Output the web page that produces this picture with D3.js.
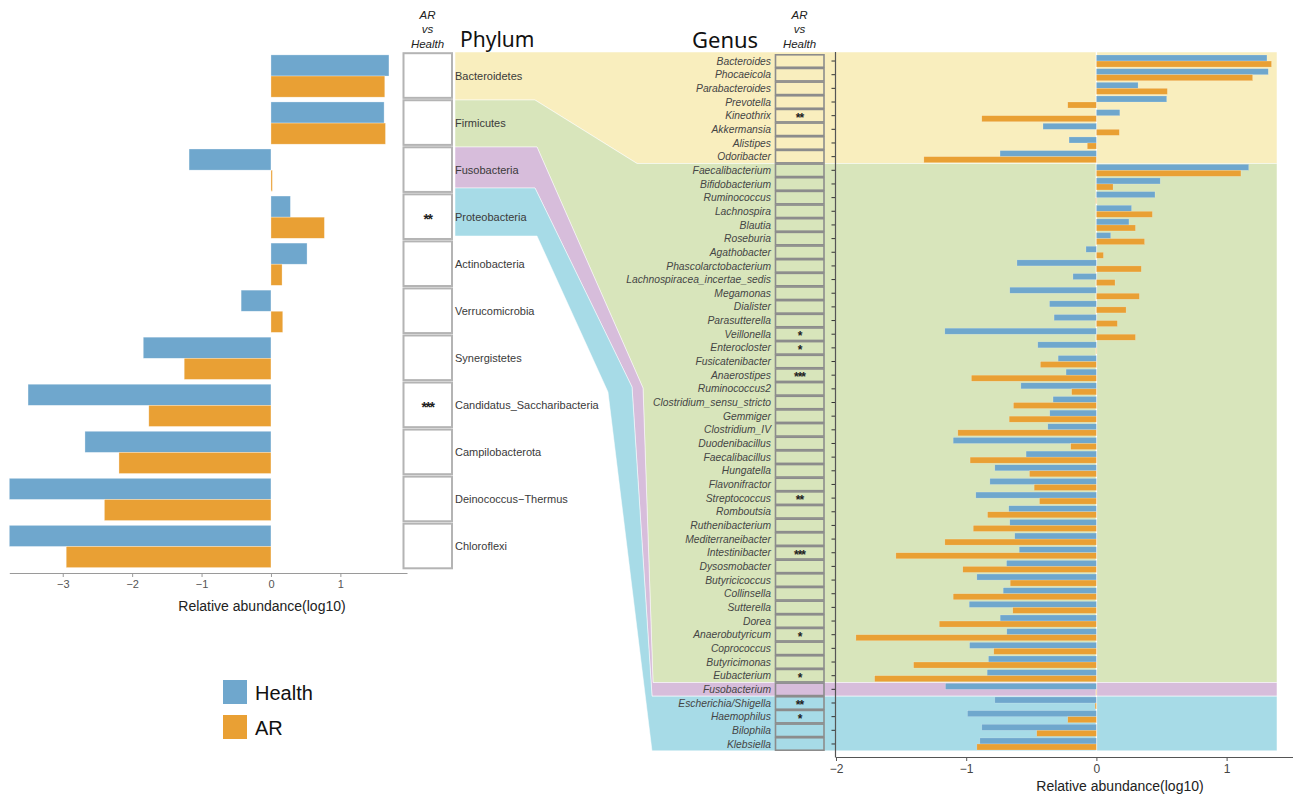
<!DOCTYPE html>
<html>
<head>
<meta charset="utf-8">
<script src="https://cdn.jsdelivr.net/npm/d3@7"></script>
<style>
  body { margin: 0; background: #fff; }
  text { font-family: Arial, "Liberation Sans", Helvetica, sans-serif; }
</style>
</head>
<body>
<svg id="chart" width="1293" height="796"></svg>
<script>
// ---------- Phylum level (log10 relative abundance) ----------
const phyla = ["Bacteroidetes", "Firmicutes", "Fusobacteria", "Proteobacteria", "Actinobacteria",
  "Verrucomicrobia", "Synergistetes", "Candidatus_Saccharibacteria", "Campilobacterota",
  "Deinococcus\u2212Thermus", "Chloroflexi"];
const phylumHealth = [1.70, 1.63, -1.18, 0.28, 0.52, -0.43, -1.84, -3.50, -2.68, -3.77, -3.77];
const phylumAR     = [1.64, 1.65, 0.02, 0.77, 0.16, 0.17, -1.25, -1.76, -2.19, -2.40, -2.95];
const phylumSig    = ["", "", "", "**", "", "", "", "***", "", "", ""];

// ---------- Genus level (log10 relative abundance) ----------
const genera = ["Bacteroides", "Phocaeicola", "Parabacteroides", "Prevotella", "Kineothrix", "Akkermansia",
  "Alistipes", "Odoribacter", "Faecalibacterium", "Bifidobacterium", "Ruminococcus", "Lachnospira",
  "Blautia", "Roseburia", "Agathobacter", "Phascolarctobacterium", "Lachnospiracea_incertae_sedis",
  "Megamonas", "Dialister", "Parasutterella", "Veillonella", "Enterocloster", "Fusicatenibacter",
  "Anaerostipes", "Ruminococcus2", "Clostridium_sensu_stricto", "Gemmiger", "Clostridium_IV",
  "Duodenibacillus", "Faecalibacillus", "Hungatella", "Flavonifractor", "Streptococcus", "Romboutsia",
  "Ruthenibacterium", "Mediterraneibacter", "Intestinibacter", "Dysosmobacter", "Butyricicoccus",
  "Collinsella", "Sutterella", "Dorea", "Anaerobutyricum", "Coprococcus", "Butyricimonas", "Eubacterium",
  "Fusobacterium", "Escherichia/Shigella", "Haemophilus", "Bilophila", "Klebsiella"];
const genusHealth = [1.31, 1.32, 0.32, 0.54, 0.18, -0.41, -0.21, -0.74, 1.17, 0.49, 0.45, 0.27,
  0.25, 0.11, -0.08, -0.61, -0.18, -0.665, -0.36, -0.325, -1.164, -0.45, -0.294, -0.233, -0.58,
  -0.333, -0.358, -0.373, -1.10, -0.54, -0.78, -0.818, -0.926, -0.673, -0.665, -0.627, -0.593,
  -0.69, -0.918, -0.716, -0.977, -0.739, -0.688, -0.974, -0.829, -0.839, -1.159, -0.78, -0.99,
  -0.88, -0.895];
const genusAR = [1.345, 1.20, 0.545, -0.22, -0.88, 0.176, -0.07, -1.325, 1.11, 0.128, -0.005, 0.43,
  0.30, 0.37, 0.054, 0.345, 0.143, 0.33, 0.228, 0.161, 0.30, -0.004, -0.43, -0.96, -0.19, -0.637,
  -0.67, -1.064, -0.197, -0.97, -0.514, -0.478, -0.437, -0.836, -0.946, -1.164, -1.54, -1.026,
  -0.662, -1.10, -0.642, -1.207, -1.847, -0.788, -1.404, -1.703, -0.004, -0.01, -0.22, -0.458, -0.918];
const genusSig = ["", "", "", "", "**", "", "", "", "", "", "", "", "", "", "", "", "", "", "", "",
  "*", "*", "", "***", "", "", "", "", "", "", "", "", "**", "", "", "", "***", "", "", "", "", "",
  "*", "", "", "*", "", "**", "*", "", ""];

// Phylum groups shown as coloured bands behind the genus panel
const groupPhyla  = ["Bacteroidetes", "Firmicutes", "Fusobacteria", "Proteobacteria"];
const groupFirst  = ["Bacteroides", "Faecalibacterium", "Fusobacterium", "Escherichia/Shigella"];
const groupColors = ["#f9eebe", "#d8e5bb", "#d7bddb", "#a7dbe7"];

const groupNames = ["Health", "AR"];
const seriesColors = ["#6fa7cd", "#e9a034"];

const xTicksLeft  = [-3, -2, -1, 0, 1];
const xTicksRight = [-2, -1, 0, 1];

// ---------------------------------------------------------------
const svg = d3.select("#chart");
const intFmt = d3.format("d");

// ===== Left panel: phylum bars =====
const xL = d3.scaleLinear().domain([-3.77, 1.96]).range([9.3, 407]);
const yL = d3.scaleBand().domain(phyla).range([52.5, 570]);
const bwL = yL.bandwidth();
const barInsetL = 2.4;
const halfL = (bwL - 2 * barInsetL) / 2;

const leftBars = svg.append("g");
phyla.forEach((p, i) => {
  [phylumHealth[i], phylumAR[i]].forEach((v, s) => {
    leftBars.append("rect")
      .attr("x", Math.min(xL(0), xL(v)))
      .attr("width", Math.abs(xL(v) - xL(0)))
      .attr("y", yL(p) + barInsetL + s * halfL)
      .attr("height", halfL)
      .attr("fill", seriesColors[s])
      .attr("stroke", "#fff").attr("stroke-opacity", 0.5).attr("stroke-width", 0.6);
  });
});

const axL = svg.append("g").attr("transform", "translate(0,573)")
  .call(d3.axisBottom(xL).tickValues(xTicksLeft).tickFormat(intFmt)
    .tickSize(4).tickSizeOuter(0).tickPadding(3));
axL.select(".domain").attr("stroke", "#9a9a9a").attr("stroke-width", 1.2);
axL.selectAll(".tick line").attr("stroke", "#9a9a9a");
axL.selectAll(".tick text").attr("fill", "#555").style("font-size", "11px");
svg.append("text").attr("x", 262).attr("y", 611).attr("text-anchor", "middle")
  .style("font-size", "14px").attr("fill", "#222").text("Relative abundance(log10)");

// ===== Flow bands linking phyla to genera =====
const bandRight = 1277;
const gTop = 54.2, gBottom = 750.8;
const rowStep = (gBottom - gTop) / genera.length;
const gY = groupFirst.map(g => gTop + genera.indexOf(g) * rowStep);
const flows = [
  [[455, 52], [bandRight, 52], [bandRight, gY[1]], [637, gY[1]], [535, 100], [455, 100]],
  [[455, 100], [535, 100], [637, gY[1]], [bandRight, gY[1]], [bandRight, gY[2]], [653, gY[2]],
   [643, 388], [537, 147], [455, 147]],
  [[455, 147], [537, 147], [643, 388], [653, gY[2]], [bandRight, gY[2]], [bandRight, gY[3]],
   [652, gY[3]], [632, 387], [535, 188], [455, 188]],
  [[455, 188], [535, 188], [632, 387], [652, gY[3]], [bandRight, gY[3]], [bandRight, gBottom],
   [652, gBottom], [608, 392], [537, 236], [455, 236]]
];
svg.append("g").selectAll("path").data(flows).join("path")
  .attr("d", d => "M" + d.map(p => p.join(",")).join("L") + "Z")
  .attr("fill", (d, i) => groupColors[i])
  .attr("stroke", "#fff").attr("stroke-width", 0.5);

// ===== Phylum significance boxes and labels =====
const boxL = svg.append("g");
phyla.forEach((p, i) => {
  boxL.append("rect")
    .attr("x", 403.5).attr("width", 48.5)
    .attr("y", yL(p) + 0.7).attr("height", yL.step() - 2.4)
    .attr("fill", "#fff").attr("stroke", "#b4b4b4").attr("stroke-width", 2);
  if (phylumSig[i]) {
    boxL.append("text").attr("x", 427.5).attr("y", yL(p) + yL.step() / 2 + 6.5)
      .attr("text-anchor", "middle").style("font-size", "14px").style("font-weight", "bold")
      .style("letter-spacing", "-1.5px").attr("fill", "#222").text(phylumSig[i]);
  }
  svg.append("text").attr("x", 455).attr("y", yL(p) + yL.step() / 2 + 4)
    .style("font-size", "11px").attr("fill", "#3a3a3a").text(p);
});

// Column headers
function header(cx) {
  const g = svg.append("g").style("font-style", "italic").style("font-size", "11.5px")
    .attr("fill", "#222").attr("text-anchor", "middle");
  g.append("text").attr("x", cx).attr("y", 19).text("AR");
  g.append("text").attr("x", cx).attr("y", 33.3).text("vs");
  g.append("text").attr("x", cx).attr("y", 47.5).text("Health");
}
header(427.5);
header(799.5);
svg.append("text").attr("x", 460).attr("y", 47).style("font-family", "'Noto Sans', sans-serif")
  .style("font-size", "21px").attr("fill", "#111").text("Phylum");
svg.append("text").attr("x", 692).attr("y", 48).style("font-family", "'Noto Sans', sans-serif")
  .style("font-size", "22px").attr("fill", "#111").text("Genus");

// ===== Right panel: genus bars =====
const xR = d3.scaleLinear().domain([-2, 1.51]).range([836, 1293]);
const yR = d3.scaleBand().domain(genera).range([gTop, gBottom]);
const bwR = yR.bandwidth();
const barInsetR = 0.8;
const halfR = (bwR - 2 * barInsetR) / 2;

// zero reference line
svg.append("line").attr("x1", xR(0)).attr("x2", xR(0)).attr("y1", 52).attr("y2", gBottom)
  .attr("stroke", "#fff").attr("stroke-width", 1.4);

const rightBars = svg.append("g");
genera.forEach((g, i) => {
  [genusHealth[i], genusAR[i]].forEach((v, s) => {
    rightBars.append("rect")
      .attr("x", Math.min(xR(0), xR(v)))
      .attr("width", Math.abs(xR(v) - xR(0)))
      .attr("y", yR(g) + barInsetR + s * halfR)
      .attr("height", halfR)
      .attr("fill", seriesColors[s])
      .attr("stroke", "#fff").attr("stroke-opacity", 0.35).attr("stroke-width", 0.5);
  });
});

// genus labels and significance boxes
const boxR = svg.append("g");
genera.forEach((g, i) => {
  const cy = yR(g) + bwR / 2;
  svg.append("text").attr("x", 771).attr("y", cy + 3.6).attr("text-anchor", "end")
    .style("font-size", "10.3px").style("font-style", "italic").attr("fill", "#454545").text(g);
  boxR.append("rect").attr("x", 775.5).attr("width", 48.5)
    .attr("y", cy - bwR / 2 + 0.6).attr("height", bwR - 1.2)
    .attr("fill", "none").attr("stroke", "#8c8c8c").attr("stroke-width", 1.6);
  if (genusSig[i]) {
    boxR.append("text").attr("x", 799.5).attr("y", cy + 6).attr("text-anchor", "middle")
      .style("font-size", "12px").style("font-weight", "bold").style("letter-spacing", "-1px")
      .attr("fill", "#222").text(genusSig[i]);
  }
});

// axes of the genus panel
const axRB = svg.append("g").attr("transform", "translate(0,757)")
  .call(d3.axisBottom(xR).tickValues(xTicksRight).tickFormat(intFmt)
    .tickSize(4).tickSizeOuter(0).tickPadding(3));
axRB.select(".domain").attr("stroke", "#555").attr("stroke-width", 1.2);
axRB.selectAll(".tick line").attr("stroke", "#555");
axRB.selectAll(".tick text").attr("fill", "#444").style("font-size", "12px");

const axRL = svg.append("g").attr("transform", "translate(835.5,0)")
  .call(d3.axisLeft(yR).tickSize(4).tickFormat(""));
axRL.select(".domain").remove();
axRL.selectAll(".tick line").attr("stroke", "#333");
svg.append("line").attr("x1", 835.5).attr("x2", 835.5).attr("y1", 52).attr("y2", 757.6)
  .attr("stroke", "#555").attr("stroke-width", 1.2);

svg.append("text").attr("x", 1120).attr("y", 791).attr("text-anchor", "middle")
  .style("font-size", "14px").attr("fill", "#222").text("Relative abundance(log10)");

// ===== Legend =====
const legend = svg.append("g");
groupNames.forEach((name, i) => {
  legend.append("rect").attr("x", 223).attr("y", 680 + i * 35).attr("width", 24).attr("height", 24)
    .attr("fill", seriesColors[i]);
  legend.append("text").attr("x", 255).attr("y", 700 + i * 34.5)
    .style("font-size", "20px").attr("fill", "#111").text(name);
});
</script>
</body>
</html>
